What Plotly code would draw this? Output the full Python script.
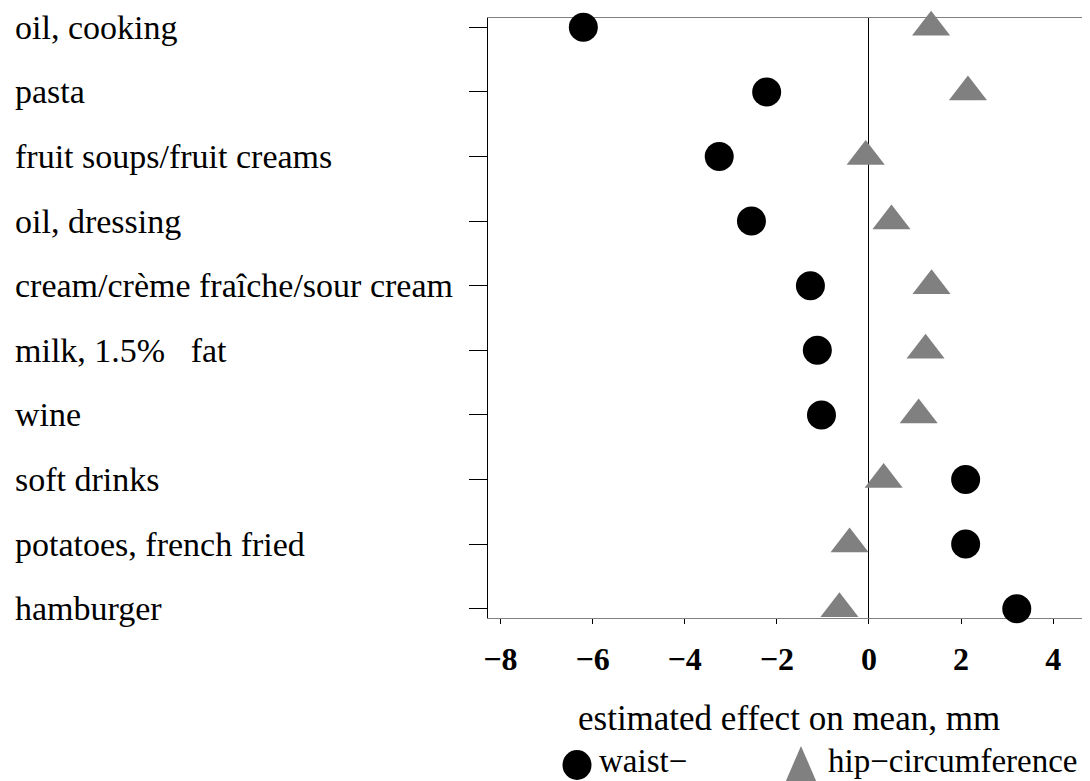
import plotly.graph_objects as go

# ---- data ----
foods = [
    "oil, cooking",
    "pasta",
    "fruit soups/fruit creams",
    "oil, dressing",
    "cream/crème fraîche/sour cream",
    "milk, 1.5%\u00a0\u00a0 fat",
    "wine",
    "soft drinks",
    "potatoes, french fried",
    "hamburger",
]
waist = [-6.20, -2.22, -3.25, -2.55, -1.27, -1.12, -1.03, 2.10, 2.10, 3.21]
hip = [1.35, 2.15, -0.07, 0.49, 1.36, 1.23, 1.08, 0.32, -0.42, -0.64]
x_ticks = [-8, -6, -4, -2, 0, 2, 4]
x_title = "estimated effect on mean, mm"
legend_labels = ["waist\u2212", "hip\u2212circumference"]

pos = list(range(len(foods)))
FONT = "Liberation Serif, Times New Roman, serif"

# page body has an 8px margin; lay the figure out in window pixels
OFF = 8
W, H = 1090 - OFF, 781 - OFF
L, R, T, B = 488 - OFF, 0, 18 - OFF, H - (618 - OFF)
PW, PH = W - L - R, H - T - B


def px_x(px):  # window pixel -> paper x
    return (px - OFF - L) / PW


def px_y(py):  # window pixel -> paper y
    return (H - B - (py - OFF)) / PH


fig = go.Figure()
fig.add_trace(go.Scatter(
    x=hip, y=pos, mode="markers", name=legend_labels[1], cliponaxis=False,
    marker=dict(symbol="triangle-up", size=33, color="#808080", line=dict(width=0)),
))
fig.add_trace(go.Scatter(
    x=waist, y=pos, mode="markers", name=legend_labels[0], cliponaxis=False,
    marker=dict(symbol="circle", size=29, color="black", line=dict(width=0)),
))

annotations = []
for i, f in zip(pos, foods):
    annotations.append(dict(
        text=f, x=px_x(13), xref="paper", y=i, yref="y", xanchor="left",
        yanchor="middle", showarrow=False,
        font=dict(family=FONT, size=34, color="black"),
    ))
annotations.append(dict(
    text=x_title, x=0.5, xref="paper", y=px_y(718), yref="paper",
    xanchor="center", yanchor="middle", showarrow=False,
    font=dict(family=FONT, size=35, color="black"),
))
annotations.append(dict(
    text=legend_labels[0], x=px_x(597), xref="paper", y=px_y(761), yref="paper",
    xanchor="left", yanchor="middle", showarrow=False,
    font=dict(family=FONT, size=33, color="black"),
))
annotations.append(dict(
    text=legend_labels[1], x=px_x(826), xref="paper", y=px_y(761), yref="paper",
    xanchor="left", yanchor="middle", showarrow=False,
    font=dict(family=FONT, size=33, color="black"),
))

shapes = [
    dict(type="circle", xref="paper", yref="paper", xsizemode="pixel", ysizemode="pixel",
         xanchor=px_x(577), yanchor=px_y(765), x0=-14.5, x1=14.5, y0=-15, y1=15,
         fillcolor="black", line=dict(width=0)),
    dict(type="path", xref="paper", yref="paper", xsizemode="pixel", ysizemode="pixel",
         xanchor=px_x(801), yanchor=px_y(765), path="M-16,-18 L16,-18 L0,19 Z",
         fillcolor="#808080", line=dict(width=0)),
]

fig.update_layout(
    width=W, height=H,
    margin=dict(l=L, r=R, t=T, b=B, pad=0),
    paper_bgcolor="white", plot_bgcolor="white",
    showlegend=False,
    annotations=annotations,
    shapes=shapes,
    font=dict(family=FONT, color="black"),
    xaxis=dict(
        range=[-8.27, 4.80], tickmode="array", tickvals=x_ticks,
        ticks="outside", ticklen=5, tickwidth=1, tickcolor="black",
        showline=True, linecolor="#808080", linewidth=1, mirror=True,
        zeroline=True, zerolinecolor="black", zerolinewidth=1,
        showgrid=False, layer="below traces",
        tickfont=dict(family=FONT, size=32, color="black", weight="bold"),
        ticklabelstandoff=8,
    ),
    yaxis=dict(
        range=[9.144, -0.144], tickmode="array", tickvals=pos,
        ticks="outside", ticklen=18, tickwidth=1, tickcolor="black",
        showticklabels=False, showline=True, linecolor="black", linewidth=1,
        zeroline=False, showgrid=False, layer="below traces",
    ),
)

fig.write_html(
    "out.html",
    post_script="document.documentElement.style.overflow='hidden';"
                "document.body.style.overflow='hidden';",
)
